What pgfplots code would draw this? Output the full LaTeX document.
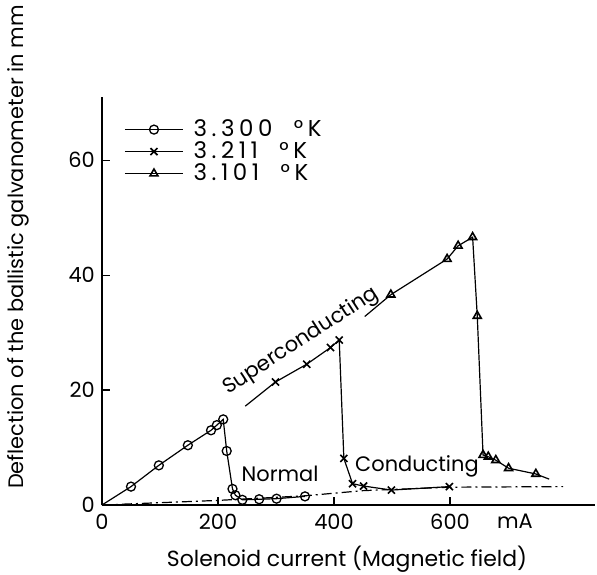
\documentclass[border=0pt]{standalone}
\usepackage{fontspec}
\setmainfont{Poppins}
\usepackage{pgfplots}
\pgfplotsset{compat=1.18}
\begin{document}
\fontsize{21}{25}\selectfont
\begin{tikzpicture}[x=1bp,y=1bp]
\useasboundingbox (-102,-70) rectangle (495,505);
\begin{axis}[
  at={(0,0)}, anchor=south west,
  scale only axis, width=493bp, height=408bp,
  xmin=0, xmax=850, ymin=0, ymax=71,
  axis x line*=bottom, axis y line*=left,
  axis line style={line width=1.6bp},
  xtick={0,200,400,600}, ytick={0,20,40,60},
  tick align=inside, major tick length=8bp,
  tick style={line width=1.2bp, black},
  /pgf/number format/assume math mode=true,
  ticklabel style={font=\fontsize{21}{25}\selectfont},
  x tick label style={yshift=-2bp},
  clip=false,
  legend image code/.code={\draw[mark repeat=2,mark phase=2,#1] plot coordinates {(0bp,0bp)(29bp,0bp)(58bp,0bp)};},
  legend style={at={(axis description cs:0.045,0.95)}, anchor=north west, draw=none, fill=none,
    font=\fontsize{23}{23}\selectfont\addfontfeatures{LetterSpace=20}, row sep=-2bp, inner sep=0bp},
  legend cell align=left,
]
% 3.300 K
\addplot[black, line width=1.2bp, mark=o, mark size=4.5bp, mark options={fill=white, line width=1.3bp}]
  coordinates {(50,3.2)(98,6.9)(148,10.4)(188,13.0)(198,13.9)(209,14.9)(215,9.4)(225,2.8)(230,1.7)(242,0.9)(271,1.0)(301,1.1)(350,1.5)};
\addlegendentry{\hspace{8bp}3.300\ \ °K}
% 3.211 K
\addplot[black, line width=1.2bp, mark=x, mark size=5bp, mark options={line width=1.6bp}]
  coordinates {(299,21.4)(353,24.5)(394,27.4)(409,28.7)(417,8.1)(432,3.7)(451,3.3)(499,2.6)(599,3.2)};
\addlegendentry{\hspace{8bp}3.211\ \ °K}
% 3.101 K
\addplot[black, line width=1.2bp, mark=triangle, mark size=4.6bp, mark options={fill=white, line width=1.6bp}]
  coordinates {(498,36.6)(595,42.8)(614,45.1)(639,46.6)(647,32.9)(657,8.7)(666,8.4)(679,7.8)(701,6.4)(748,5.4)};
\addlegendentry{\hspace{8bp}3.101\ \ °K}
% line segments without markers
\addplot[black, line width=1.2bp, forget plot] coordinates {(0,0)(50,3.2)};
\addplot[black, line width=1.2bp, forget plot] coordinates {(247,17.2)(299,21.4)};
\addplot[black, line width=1.2bp, forget plot] coordinates {(453,32.8)(498,36.6)};
\addplot[black, line width=1.2bp, forget plot] coordinates {(748,5.4)(771,4.5)};
% dash-dot baseline
\addplot[black, line width=1.2bp, dash pattern=on 10bp off 4bp on 2bp off 4bp, forget plot]
  coordinates {(0,0)(200,0.8)(350,1.6)(450,2.5)(600,3.1)(795,3.2)};
% labels
\node[rotate=33] at (axis cs:343,28.5) {Superconducting};
\node at (axis cs:307,5.4) {Normal};
\node at (axis cs:543,6.7) {Conducting};
\node[anchor=north, yshift=-2bp] at (axis cs:712,0) {mA};
\node[font=\fontsize{22}{26}\selectfont] at (axis description cs:0.497,-0.133) {Solenoid current (Magnetic field)};
\node[rotate=90] at (axis description cs:-0.1704,0.632) {Deflection of the ballistic galvanometer in mm};
\end{axis}
\end{tikzpicture}
\end{document}
